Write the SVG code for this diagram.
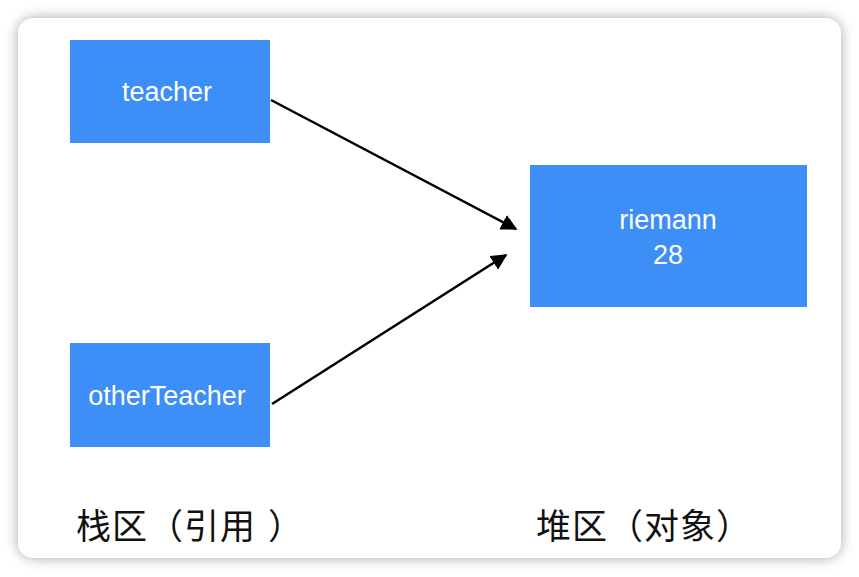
<svg xmlns="http://www.w3.org/2000/svg" width="859" height="577" viewBox="0 0 859 577">
<style>
.node rect{fill:#3d8ef7}
.node text{fill:#fff;font-family:"Liberation Sans",Arial,sans-serif;font-size:27px;text-anchor:middle}
.lbl{fill:#111;font-family:"Noto Sans CJK SC","Liberation Sans",sans-serif;font-size:35px}
.edge{stroke:#000;stroke-width:2.5;fill:none;marker-end:url(#ah)}
</style>
<defs>
<filter id="sh" x="-10%" y="-10%" width="120%" height="120%">
<feGaussianBlur in="SourceAlpha" stdDeviation="7"/>
<feComponentTransfer><feFuncA type="linear" slope="0.35"/></feComponentTransfer>
<feMerge><feMergeNode/><feMergeNode in="SourceGraphic"/></feMerge>
</filter>
<marker id="ah" viewBox="0 0 10 10" refX="9" refY="5" markerWidth="6.5" markerHeight="6.5" markerUnits="strokeWidth" orient="auto">
<path d="M0,0 L10,5 L0,10 z" fill="#000"/>
</marker>
</defs>
<rect x="0" y="0" width="859" height="577" fill="#fff"/>
<rect x="18" y="18" width="823" height="540" rx="16" fill="#fff" filter="url(#sh)"/>
<g id="connectors">
<line class="edge" x1="271" y1="100" x2="516" y2="229"/>
<line class="edge" x1="272" y1="404" x2="506" y2="255"/>
</g>
<g id="teacher" class="node"><rect x="70" y="40" width="200" height="103"/><text x="167" y="101">teacher</text></g>
<g id="otherTeacher" class="node"><rect x="70" y="343" width="200" height="104"/><text x="167" y="405">otherTeacher</text></g>
<g id="riemann" class="node"><rect x="530" y="165" width="277" height="142"/><text x="668" y="229">riemann</text><text x="668" y="264">28</text></g>
<g id="labels">
<text class="lbl" x="76 112 148 184 220 256 268" y="539">栈区（引用 ）</text>
<text class="lbl" x="536 572 608 644 680 716" y="539">堆区（对象）</text>
</g>
</svg>
